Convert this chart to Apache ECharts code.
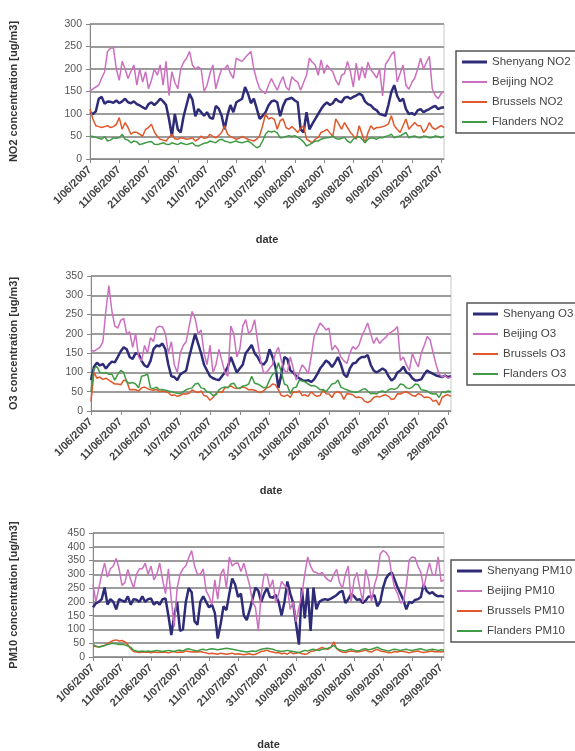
<!DOCTYPE html>
<html><head><meta charset="utf-8">
<script src="https://cdn.jsdelivr.net/npm/echarts@6/dist/echarts.min.js"></script>
<style>html,body{margin:0;padding:0;background:#fff}#c{width:575px;height:751px}</style>
</head><body><div id="c"></div>
<script>
// Category dates 1/06/2007 .. 30/09/2007
const months = [[6,30],[7,31],[8,31],[9,30]];
const dates = [];
months.forEach(([m,n]) => { for (let d=1; d<=n; d++) dates.push(d + '/' + String(m).padStart(2,'0') + '/2007'); });

const no2Shenyang = [104,100,106,134,138,123,128,127,125,130, 124,128,134,126,124,128,122,119,115,111, 122,126,120,126,134,128,120,89,51,100, 66,59,95,120,145,132,95,111,104,96, 104,92,89,118,112,96,66,98,120,104, 126,130,134,160,145,124,134,112,89,96, 104,119,128,130,126,95,118,132,134,136, 130,126,66,59,104,66,78,89,100,111, 120,126,120,124,134,128,126,136,138,134, 138,141,145,142,128,122,119,112,108,100, 98,96,120,149,164,140,128,134,111,100, 102,98,108,111,104,108,111,115,118,111, 114,115];
const no2Beijing = [150,156,160,164,180,194,239,246,247,200, 175,217,200,179,195,209,164,200,171,194, 156,175,200,186,209,164,217,141,194,170, 156,200,215,224,239,209,200,205,200,150, 164,190,209,156,180,200,200,209,190,179, 224,220,217,225,232,239,200,175,156,150, 145,164,179,165,153,170,183,160,153,183, 175,171,153,170,186,224,215,209,186,220, 190,209,200,194,175,164,186,190,217,194, 160,213,175,205,180,215,198,190,180,200, 140,210,220,232,239,171,190,209,164,155, 170,180,200,224,200,215,228,156,141,134, 145,150];
const no2Brussels = [111,89,74,72,70,72,74,70,72,77, 92,66,81,70,55,60,59,55,51,66, 70,77,60,50,44,42,40,48,55,45, 44,47,46,44,45,47,40,44,51,46, 47,55,50,47,52,59,74,55,50,47, 44,46,50,47,44,42,40,44,52,74, 100,89,92,88,66,85,89,70,66,72, 66,59,68,74,44,40,36,44,48,59, 62,66,58,50,89,78,66,81,70,59, 52,44,74,55,36,58,74,66,70,70, 72,74,78,96,74,66,59,74,89,66, 74,81,74,74,59,66,81,70,66,70, 74,70];
const no2Flanders = [51,50,48,46,44,50,40,42,47,46, 47,55,44,42,36,40,38,32,34,36, 38,39,33,32,34,36,33,32,36,34, 32,36,34,32,34,36,30,29,32,35, 36,40,38,36,42,44,40,38,36,38, 40,37,36,38,40,36,30,25,28,40, 55,62,60,62,58,47,48,50,52,50, 52,48,44,38,29,32,36,40,40,44, 46,47,48,51,46,44,46,48,40,36, 44,48,50,44,36,44,47,46,44,48, 47,50,52,55,47,50,51,55,59,47, 50,51,48,47,51,50,47,48,51,50, 47,51];

const o3Shenyang = [80,115,125,118,122,110,120,128,126,140, 155,165,160,140,135,150,148,130,118,114, 130,160,170,168,175,160,120,90,88,80, 95,100,105,140,170,200,175,150,120,105, 90,85,82,80,90,100,115,140,120,100, 110,120,150,160,171,150,140,125,120,130, 160,140,114,60,95,140,135,105,100,90, 85,80,78,80,75,82,95,110,120,131, 125,114,125,140,120,95,88,110,123,125, 135,140,140,145,120,105,100,105,110,105, 90,79,85,100,105,115,100,96,85,79, 80,82,95,105,100,96,92,90,88,92, 88,90];
const o3Beijing = [158,155,160,165,180,260,325,260,220,215, 235,240,200,205,165,200,140,130,170,150, 190,180,215,220,218,200,150,180,120,100, 150,170,180,220,258,240,200,210,150,120, 170,100,120,160,130,100,90,220,200,140, 160,220,237,200,210,237,180,130,100,100, 110,120,150,165,130,105,100,140,110,80, 100,120,110,96,140,193,210,228,220,210, 215,158,170,160,140,130,123,150,167,160, 170,193,210,228,200,175,190,175,184,190, 200,205,210,219,131,140,120,105,149,130, 114,150,170,193,184,150,120,96,88,92, 85,88];
const o3Brussels = [25,100,85,88,82,85,80,75,70,70, 68,80,78,55,56,55,52,60,62,58, 55,54,56,50,52,50,48,40,42,38, 40,45,44,46,55,50,48,52,40,38, 28,35,45,50,48,60,62,65,60,58, 60,62,60,55,56,54,50,48,52,60, 62,70,68,55,40,38,42,35,50,48, 52,40,42,38,50,42,38,40,55,45, 44,35,48,50,46,30,45,44,42,35, 36,34,25,22,26,35,38,36,40,42, 38,30,32,45,44,48,50,46,40,38, 45,42,35,36,34,25,28,15,35,40, 42,38];
const o3Flanders = [50,110,115,100,98,100,95,96,80,95, 105,100,75,72,74,70,60,90,92,96, 60,58,62,55,56,54,52,50,48,46, 45,50,55,58,60,70,72,60,58,50, 48,40,42,55,60,62,60,70,72,60, 58,65,66,70,90,72,70,66,60,62, 80,95,100,125,100,70,66,45,60,62, 80,78,75,70,65,66,62,55,56,50, 60,70,72,80,62,58,55,52,50,48, 50,55,58,52,45,46,44,50,52,48, 55,58,56,60,70,68,60,58,62,70, 68,55,54,52,46,44,45,35,50,48, 52,50];

const pmShenyang = [180,195,200,210,252,190,210,200,173,210, 205,200,220,190,210,208,200,220,200,210, 212,190,200,190,210,212,150,80,150,200, 95,100,200,250,235,130,117,200,220,200, 180,190,160,67,120,184,170,230,285,263, 218,230,151,134,170,210,252,240,200,230, 250,218,215,225,200,151,200,274,230,196, 120,45,250,140,250,95,252,173,200,207, 210,207,212,218,225,235,240,196,210,229, 220,207,210,196,205,220,218,225,184,200, 252,285,300,307,280,252,230,207,173,200, 196,207,210,218,263,240,230,235,225,220, 222,218];
const pmBeijing = [263,200,250,300,341,290,320,330,358,320, 260,270,318,280,250,300,320,320,340,300, 330,280,300,341,280,230,320,207,110,250, 300,320,330,360,386,330,300,300,320,240, 220,190,280,210,300,320,250,363,330,340, 341,310,340,300,260,200,180,95,230,300, 300,250,280,196,230,274,260,250,173,200, 128,180,229,300,363,330,310,307,300,307, 290,280,274,300,318,270,250,300,330,200, 280,307,250,200,318,280,200,260,296,374, 386,380,363,300,250,230,196,200,260,352, 363,360,330,307,250,300,341,300,296,363, 274,280];
const pmBrussels = [40,38,36,40,42,48,55,60,62,58, 60,55,45,30,20,18,16,18,17,18, 15,18,17,16,18,17,15,18,20,16, 18,17,22,20,18,19,18,20,17,15, 12,14,12,10,14,12,10,12,14,10, 12,10,8,10,12,8,10,15,20,22, 25,20,18,15,16,12,14,10,18,12, 14,16,12,10,12,20,22,25,30,35, 30,28,35,55,30,22,18,16,20,22, 20,18,20,22,25,20,18,24,28,22, 20,18,15,16,20,18,22,20,18,15, 18,20,22,18,16,18,20,22,18,20, 18,20];
const pmFlanders = [45,40,36,38,42,45,48,50,48,45, 46,44,40,35,25,22,20,22,20,22, 20,22,24,22,20,22,24,22,20,24, 25,22,28,30,26,24,22,26,28,25, 28,30,28,26,28,30,32,30,28,26, 24,22,20,18,20,22,20,24,28,30, 32,30,28,24,22,20,22,24,22,20, 18,16,20,24,22,26,28,25,24,28, 30,32,36,42,32,26,24,22,26,28, 25,22,24,28,30,26,28,32,36,30, 26,24,22,26,28,26,24,26,28,25, 24,26,28,30,26,24,26,28,26,24, 26,25];

const cities = ['Shenyang','Beijing','Brussels','Flanders'];
const colors = ['#2e2c78','#cc6fbf','#e0582c','#3f9c45'];
const widths = [2.5,1.5,1.5,1.5];
const icons = ['path://M0,0L25,0L25,3L0,3Z','path://M0,0L25,0L25,2L0,2Z','path://M0,0L25,0L25,2L0,2Z','path://M0,0L25,0L25,2L0,2Z'];
const panels = [
  {pol:'NO2', yname:'NO2 concentration [ug/m3]', max:300, data:[no2Shenyang,no2Beijing,no2Brussels,no2Flanders],
   grid:{left:86, top:24, width:358, height:135}, legend:{left:456, top:51}, nameGap:71, dateGap:75},
  {pol:'O3', yname:'O3 concentration [ug/m3]', max:350, data:[o3Shenyang,o3Beijing,o3Brussels,o3Flanders],
   grid:{left:88, top:276, width:363, height:135}, legend:{left:467, top:303}, nameGap:72, dateGap:74},
  {pol:'PM10', yname:'PM10 concentration [ug/m3]', max:450, data:[pmShenyang,pmBeijing,pmBrussels,pmFlanders],
   grid:{left:90, top:533, width:354, height:134}, legend:{left:451, top:560}, nameGap:74, dateGap:82}
];

const font = 'Liberation Sans, Arial, sans-serif';
const option = {backgroundColor:'#fff', animation:false, grid:[], xAxis:[], yAxis:[], legend:[], series:[]};
panels.forEach((p,i) => {
  option.grid.push(Object.assign({show:true, borderColor:'#c8c8c8', borderWidth:1, backgroundColor:'#fff'}, p.grid));
  option.xAxis.push({type:'category', gridIndex:i, data:dates, boundaryGap:false,
    name:'date', nameLocation:'middle', nameGap:p.dateGap,
    nameTextStyle:{fontFamily:font, fontSize:11, fontWeight:'bold', color:'#333'},
    axisLine:{lineStyle:{color:'#888', width:1}},
    axisTick:{interval:9, length:4, lineStyle:{color:'#888'}},
    axisLabel:{interval:9, rotate:45, fontFamily:font, fontSize:11, fontWeight:'bold', color:'#444', margin:9},
    splitLine:{show:false}});
  option.yAxis.push({type:'value', gridIndex:i, min:0, max:p.max, interval:50,
    name:p.yname, nameLocation:'middle', nameGap:p.nameGap,
    nameTextStyle:{fontFamily:font, fontSize:11, fontWeight:'bold', color:'#333'},
    axisLine:{show:true, lineStyle:{color:'#888'}},
    axisTick:{show:true, length:4, lineStyle:{color:'#888'}},
    axisLabel:{fontFamily:font, fontSize:10.5, color:'#555', margin:8},
    splitLine:{show:true, lineStyle:{color:'#9c9c9c', width:2}}});
  const names = cities.map(c => c + ' ' + p.pol);
  option.legend.push({orient:'vertical', left:p.legend.left, top:p.legend.top,
    data:names.map((n,k) => ({name:n, icon:icons[k]})),
    itemWidth:25, itemHeight:12, itemGap:8, padding:[5,12,5,6],
    borderColor:'#555', borderWidth:1.5, backgroundColor:'#fff',
    textStyle:{fontFamily:font, fontSize:11.5, color:'#444'}});
  p.data.forEach((arr,k) => {
    option.series.push({type:'line', name:names[k], xAxisIndex:i, yAxisIndex:i, data:arr,
      symbol:'none', lineStyle:{color:colors[k], width:widths[k]}, itemStyle:{color:colors[k]}});
  });
});
echarts.init(document.getElementById('c'), null, {renderer:'canvas'}).setOption(option);
</script></body></html>
